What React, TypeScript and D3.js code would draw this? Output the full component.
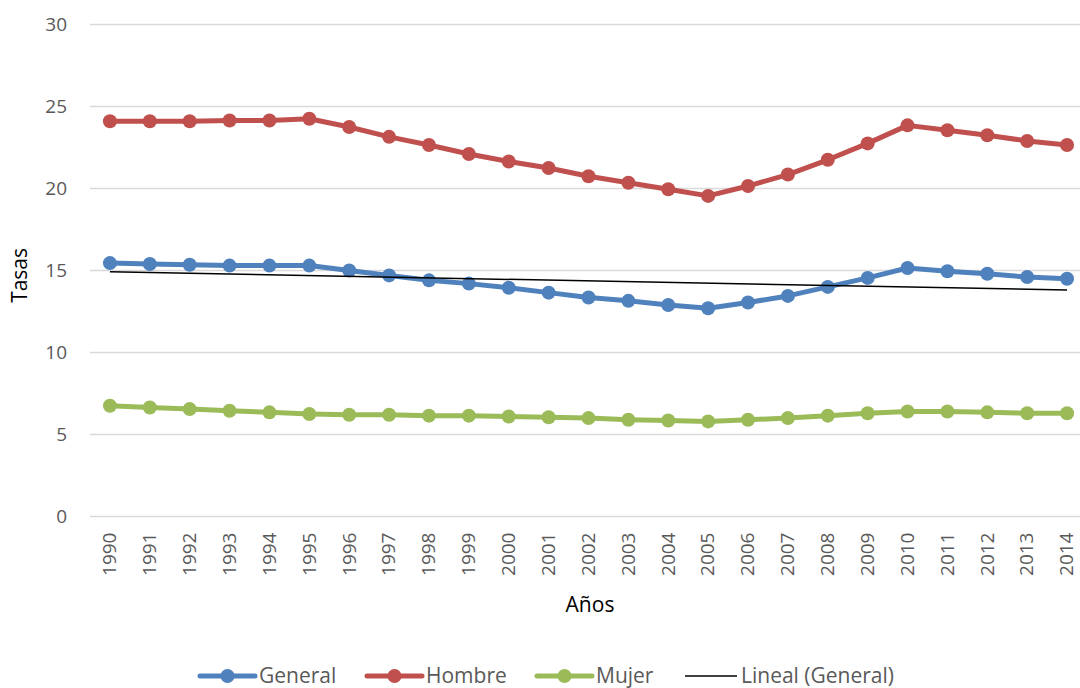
import React, { useEffect, useRef } from 'react';
import * as d3 from 'd3';

const years = ['1990','1991','1992','1993','1994','1995','1996','1997','1998','1999','2000','2001','2002','2003','2004','2005','2006','2007','2008','2009','2010','2011','2012','2013','2014'];
const general = [15.45,15.4,15.35,15.3,15.3,15.3,15.0,14.7,14.4,14.2,13.95,13.65,13.35,13.15,12.9,12.7,13.05,13.45,14.0,14.55,15.15,14.95,14.8,14.6,14.5];
const hombre = [24.1,24.1,24.1,24.15,24.15,24.25,23.75,23.15,22.65,22.1,21.65,21.25,20.75,20.35,19.95,19.55,20.15,20.85,21.75,22.75,23.85,23.55,23.25,22.9,22.65];
const mujer = [6.75,6.65,6.55,6.45,6.35,6.25,6.2,6.2,6.15,6.15,6.1,6.05,6.0,5.9,5.85,5.8,5.9,6.0,6.15,6.3,6.4,6.4,6.35,6.3,6.3];
const yTicks = [0, 5, 10, 15, 20, 25, 30];

const series = [
  { name: 'General', color: '#4F81BD', values: general },
  { name: 'Hombre', color: '#C0504D', values: hombre },
  { name: 'Mujer', color: '#9BBB59', values: mujer },
];

const W = 1080, H = 688;
const font = '"Open Sans", "Liberation Sans", sans-serif';

export default function App() {
  const ref = useRef<SVGSVGElement>(null);

  useEffect(() => {
    const svg = d3.select(ref.current);
    svg.selectAll('*').remove();

    // plot runs a bit past the right edge, like the original
    const left = 90, right = 1087, top = 24.5, bottom = 516.5;

    const x = d3.scaleBand().domain(years).range([left, right]);
    const y = d3.scaleLinear().domain([0, 30]).range([bottom, top]);
    const cx = (yr: string) => (x(yr) as number) + x.bandwidth() / 2;

    // grid
    svg.append('g').selectAll('line').data(yTicks).enter().append('line')
      .attr('x1', left).attr('x2', W)
      .attr('y1', d => y(d)).attr('y2', d => y(d))
      .attr('stroke', '#d9d9d9').attr('stroke-width', 1.3);

    svg.append('g').selectAll('text').data(yTicks).enter().append('text')
      .attr('x', 67).attr('y', d => y(d)).attr('dy', '0.35em')
      .attr('text-anchor', 'end')
      .attr('font-family', font).attr('font-size', 19).attr('fill', '#595959')
      .text(d => d);

    // x labels rotated
    svg.append('g').selectAll('text').data(years).enter().append('text')
      .attr('transform', d => `translate(${cx(d)},${bottom + 16}) rotate(-90)`)
      .attr('text-anchor', 'end').attr('dy', '0.33em')
      .attr('font-family', font).attr('font-size', 19).attr('fill', '#595959')
      .text(d => d);

    svg.append('text')
      .attr('x', 590).attr('y', 612).attr('text-anchor', 'middle')
      .attr('font-family', font).attr('font-size', 21).attr('fill', '#000')
      .text('Años');

    svg.append('text')
      .attr('transform', `translate(27,${y(14.7)}) rotate(-90)`)
      .attr('text-anchor', 'middle')
      .attr('font-family', font).attr('font-size', 21).attr('fill', '#000')
      .text('Tasas');

    const line = d3.line<number>()
      .x((_, i) => cx(years[i]))
      .y(d => y(d));

    series.forEach(s => {
      const g = svg.append('g');
      g.append('path').datum(s.values)
        .attr('d', line).attr('fill', 'none')
        .attr('stroke', s.color).attr('stroke-width', 5)
        .attr('stroke-linejoin', 'round').attr('stroke-linecap', 'round');
      g.selectAll('circle').data(s.values).enter().append('circle')
        .attr('cx', (_, i) => cx(years[i])).attr('cy', d => y(d))
        .attr('r', 7).attr('fill', s.color);
    });

    // linear trend of General
    const n = general.length;
    const xs = d3.range(n);
    const mx = d3.mean(xs) as number, my = d3.mean(general) as number;
    const slope = d3.sum(xs, i => (i - mx) * (general[i] - my)) / d3.sum(xs, i => (i - mx) ** 2);
    const icpt = my - slope * mx;
    svg.append('line')
      .attr('x1', cx(years[0])).attr('y1', y(icpt))
      .attr('x2', cx(years[n - 1])).attr('y2', y(icpt + slope * (n - 1)))
      .attr('stroke', '#000').attr('stroke-width', 1.5);

    // legend
    const ly = 676;
    const items = [
      { ...series[0], x0: 200, len: 55, marker: true },
      { ...series[1], x0: 367, len: 55, marker: true },
      { ...series[2], x0: 537, len: 55, marker: true },
      { name: 'Lineal (General)', color: '#000', x0: 685, len: 52, marker: false },
    ];
    items.forEach(it => {
      const g = svg.append('g');
      g.append('line').attr('x1', it.x0).attr('x2', it.x0 + it.len)
        .attr('y1', ly).attr('y2', ly)
        .attr('stroke', it.color).attr('stroke-width', it.marker ? 5 : 1.5)
        .attr('stroke-linecap', it.marker ? 'round' : 'butt');
      if (it.marker) g.append('circle').attr('cx', it.x0 + it.len / 2).attr('cy', ly).attr('r', 7).attr('fill', it.color);
      g.append('text').attr('x', it.x0 + it.len + 4).attr('y', ly).attr('dy', '0.35em')
        .attr('font-family', font).attr('font-size', 21).attr('fill', '#595959')
        .text(it.name);
    });
  }, []);

  return (
    <svg ref={ref} width={W} height={H}
      style={{ position: 'absolute', left: 0, top: 0, background: '#fff', display: 'block' }} />
  );
}
